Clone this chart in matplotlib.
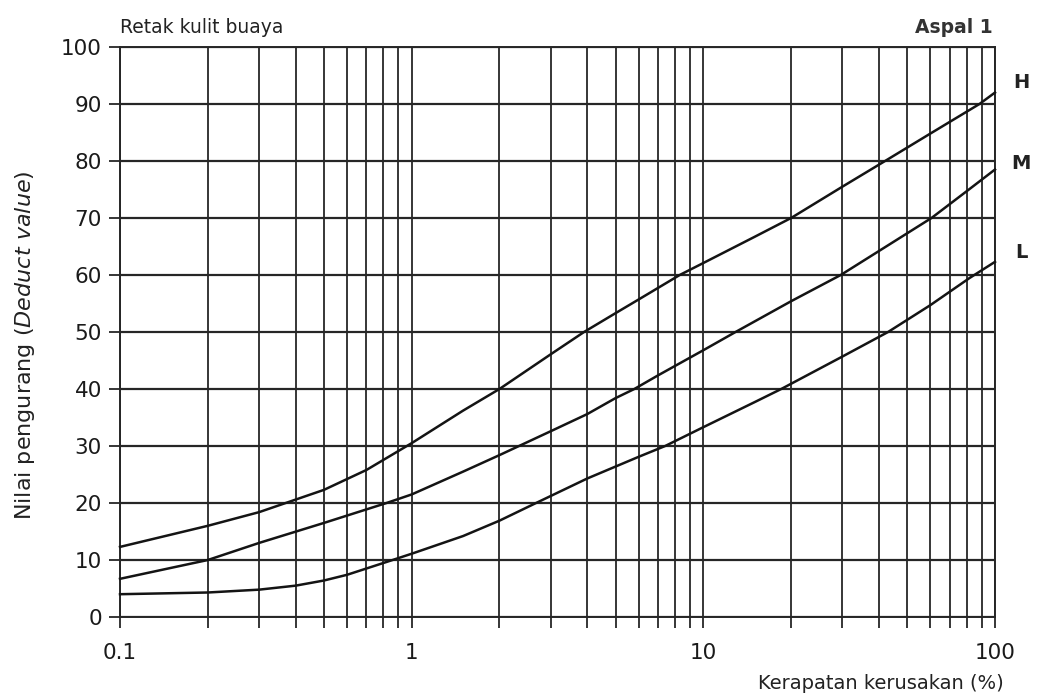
import matplotlib
matplotlib.use('Agg')
import matplotlib.pyplot as plt
from matplotlib.ticker import LogLocator, NullFormatter, FixedLocator

plt.rcParams['font.family'] = ['DejaVu Sans']
plt.rcParams['mathtext.fontset'] = 'dejavusans'

# curve readings (density %, deduct value)
h_x = [0.1, 0.2, 0.3, 0.5, 0.7, 1, 1.5, 2, 3, 3.9, 5, 6, 8.3, 10, 15, 20, 30, 42, 60, 88.5, 100]
h_y = [12.3, 16.0, 18.4, 22.3, 25.8, 30.5, 36.2, 40, 46.1, 50, 53.3, 55.7, 60, 62.1, 66.7, 70, 75.5, 80, 84.8, 90, 92]
m_x = [0.1, 0.2, 0.3, 0.5, 0.82, 1, 1.5, 2, 3, 4, 5, 5.8, 7, 10, 12.9, 20, 29.6, 40, 60.6, 80, 100]
m_y = [6.7, 10, 13, 16.5, 20, 21.5, 25.5, 28.4, 32.6, 35.6, 38.4, 40, 42.4, 46.8, 50, 55.4, 60, 64.2, 70, 74.7, 78.5]
l_x = [0.1, 0.2, 0.3, 0.4, 0.5, 0.6, 0.86, 1, 1.5, 2, 2.67, 4, 6, 7.4, 10, 15, 18.5, 30, 43, 60, 82, 100]
l_y = [4, 4.3, 4.8, 5.5, 6.4, 7.4, 10, 11.1, 14.2, 16.9, 20, 24.3, 28.1, 30, 33.3, 37.7, 40, 45.7, 50, 54.7, 59.5, 62.3]

curve_names = ['H', 'M', 'L']
name_offsets = [1.8, 1.1, 1.6]   # label sits a little above each curve end
y_ticks = list(range(0, 101, 10))
x_ticks = [0.1, 1, 10, 100]
x_labels = ['0.1', '1', '10', '100']

fig = plt.figure(figsize=(10.4, 6.99), dpi=100)
ax = fig.add_axes([0.1154, 0.1173, 0.8413, 0.8155])

ax.set_xscale('log')
ax.set_xlim(0.1, 100)
ax.set_ylim(0, 100)

line_col = '#262626'
for (xs, ys), name, off in zip([(h_x, h_y), (m_x, m_y), (l_x, l_y)], curve_names, name_offsets):
    ax.plot(xs, ys, color='#141414', lw=1.8, clip_on=False, zorder=3,
            solid_joinstyle='round')
    ax.text(1.03, (ys[-1] + off) / 100, name, transform=ax.transAxes,
            fontsize=14, fontweight='bold', color='#222', ha='center', va='center')

ax.xaxis.set_major_locator(FixedLocator(x_ticks))
ax.set_xticklabels(x_labels)
ax.xaxis.set_minor_locator(LogLocator(base=10, subs=range(2, 10)))
ax.xaxis.set_minor_formatter(NullFormatter())
ax.set_yticks(y_ticks)

ax.grid(True, which='both', axis='x', color=line_col, lw=1.3)
ax.grid(True, which='major', axis='y', color=line_col, lw=1.6)
ax.tick_params(axis='both', which='both', direction='out', color=line_col,
               width=1.3, length=8, labelsize=15.5, labelcolor='#1a1a1a', pad=5)
ax.tick_params(axis='x', which='major', pad=11)
for sp in ax.spines.values():
    sp.set_color(line_col)
    sp.set_linewidth(1.4)

ax.set_ylabel(r'Nilai pengurang ($\it{Deduct\ value}$)', fontsize=16,
              color='#222')
ax.yaxis.set_label_coords(-0.095, 0.477)
ax.set_xlabel('Kerapatan kerusakan (%)', fontsize=14, color='#222')
ax.xaxis.set_label_coords(1.01, -0.1)
ax.xaxis.label.set_horizontalalignment('right')

ax.text(0.0, 1.035, 'Retak kulit buaya', transform=ax.transAxes,
        fontsize=13.5, color='#222', ha='left', va='center')
ax.text(0.997, 1.035, 'Aspal 1', transform=ax.transAxes,
        fontsize=13.5, fontweight='bold', color='#333', ha='right', va='center')

fig.savefig('out.png', dpi=100, facecolor='white')
